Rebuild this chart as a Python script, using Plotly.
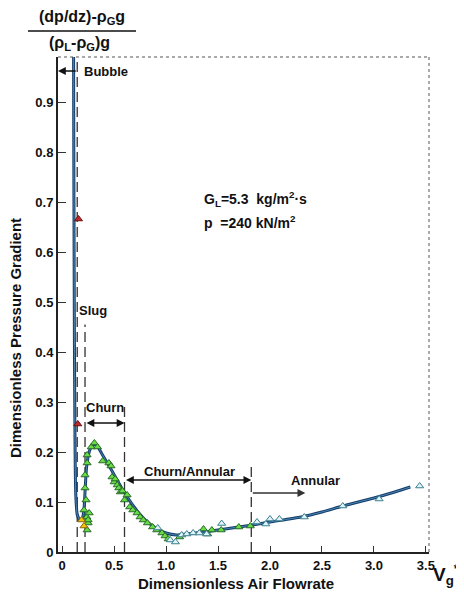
import plotly.graph_objects as go

# ---- data ----
curve_x = [0.11, 0.112, 0.115, 0.118, 0.122, 0.126, 0.132, 0.145, 0.17, 0.195, 0.21, 0.22, 0.235, 0.26, 0.29, 0.33, 0.38, 0.48, 0.59, 0.7, 0.8, 0.9, 1.0, 1.1, 1.2, 1.4, 1.6, 1.8, 2.0, 2.3, 2.5, 2.7, 3.0, 3.2, 3.35]
curve_y = [0.99, 0.8, 0.6, 0.42, 0.27, 0.17, 0.11, 0.075, 0.064, 0.068, 0.085, 0.12, 0.17, 0.2, 0.214, 0.214, 0.197, 0.162, 0.122, 0.088, 0.064, 0.048, 0.038, 0.034, 0.036, 0.041, 0.047, 0.053, 0.06, 0.07, 0.08, 0.092, 0.108, 0.12, 0.13]

churn_x = [0.24, 0.25, 0.237, 0.25, 0.26, 0.21, 0.23, 0.22, 0.22, 0.24, 0.24, 0.28, 0.31, 0.34, 0.39, 0.45, 0.47, 0.48, 0.50, 0.51, 0.53, 0.545, 0.56, 0.58, 0.60, 0.625, 0.65, 0.68, 0.72, 0.75, 0.78, 0.82, 0.87, 0.91, 0.96, 0.99, 1.02, 1.13, 1.36, 1.40, 1.44, 1.53, 1.70, 1.81]
churn_y = [0.044, 0.058, 0.07, 0.064, 0.078, 0.084, 0.104, 0.128, 0.154, 0.178, 0.194, 0.21, 0.218, 0.21, 0.182, 0.178, 0.172, 0.15, 0.14, 0.146, 0.134, 0.128, 0.12, 0.122, 0.104, 0.114, 0.09, 0.084, 0.078, 0.07, 0.064, 0.058, 0.05, 0.044, 0.038, 0.032, 0.026, 0.03, 0.046, 0.036, 0.044, 0.044, 0.05, 0.052]

annular_x = [0.92, 1.04, 1.09, 1.15, 1.20, 1.26, 1.32, 1.39, 1.535, 1.875, 1.96, 2.0, 2.09, 2.33, 2.70, 3.05, 3.44]
annular_y = [0.048, 0.024, 0.02, 0.034, 0.036, 0.038, 0.038, 0.036, 0.057, 0.06, 0.056, 0.066, 0.066, 0.07, 0.092, 0.106, 0.132]

bubble_x = [0.157, 0.15]
bubble_y = [0.666, 0.256]

slug_x = [0.186, 0.21]
slug_y = [0.064, 0.052]

x_ticks = [0, 0.5, 1.0, 1.5, 2.0, 2.5, 3.0, 3.5]
x_tick_text = ["0", "0.5", "1.0", "1.5", "2.0", "2.5", "3.0", "3.5"]
y_ticks = [0, 0.1, 0.2, 0.3, 0.4, 0.5, 0.6, 0.7, 0.8, 0.9]
y_tick_text = ["0", "0.1", "0.2", "0.3", "0.4", "0.5", "0.6", "0.7", "0.8", "0.9"]

# regime boundaries (x, top y)
bounds_x = [0.145, 0.22, 0.6, 1.82]
bounds_top = [0.99, 0.455, 0.30, 0.17]

FONT = "Liberation Sans, Arial, sans-serif"

fig = go.Figure()

for bx, bt in zip(bounds_x, bounds_top):
    fig.add_trace(go.Scatter(x=[bx, bx], y=[0, bt], mode="lines",
                             line=dict(color="#333333", width=1.3, dash="10px,5px"),
                             hoverinfo="skip", showlegend=False))

fig.add_trace(go.Scatter(x=curve_x, y=curve_y, mode="lines",
                         line=dict(color="#153e6e", width=3, shape="spline", smoothing=0.6),
                         showlegend=False))
fig.add_trace(go.Scatter(x=curve_x, y=curve_y, mode="lines",
                         line=dict(color="#4a86b0", width=1, shape="spline", smoothing=0.6),
                         showlegend=False))

def tri(x, y, fill, edge):
    fig.add_trace(go.Scatter(x=x, y=y, mode="markers",
                             marker=dict(symbol="triangle-up", size=7, color=fill,
                                         line=dict(color=edge, width=1)),
                             showlegend=False))

tri(churn_x, churn_y, "#66dd44", "#2a6a2a")
tri(annular_x, annular_y, "#dff3f8", "#3a7f8c")
tri(bubble_x, bubble_y, "#c0282a", "#6a1010")
tri(slug_x, slug_y, "#f4c20d", "#8a6a00")

# window pixel -> paper (plot area spans x 58..429, y 57..552 in the window)
def px2paper(px, py):
    return (px - 58) / 371.0, (552 - py) / 495.0

ann = []
def text_px(txt, px, py, size=13, xanchor="center", angle=0):
    x, y = px2paper(px, py)
    ann.append(dict(text=txt, x=x, y=y, xref="paper", yref="paper", showarrow=False,
                    xanchor=xanchor, yanchor="middle", textangle=angle,
                    font=dict(family=FONT, size=size, color="#111111", weight="bold")))

def text_data(txt, x, y, size=13, xanchor="center"):
    ann.append(dict(text=txt, x=x, y=y, xref="x", yref="y", showarrow=False,
                    xanchor=xanchor, yanchor="middle",
                    font=dict(family=FONT, size=size, color="#111111", weight="bold")))

def arrow(x0, x1, y, both=False, color="#111111"):
    ann.append(dict(x=x1, y=y, ax=x0, ay=y, xref="x", yref="y", axref="x", ayref="y",
                    text="", showarrow=True, arrowhead=2, arrowsize=1.2, arrowwidth=1.3,
                    arrowcolor=color, arrowside="end+start" if both else "end",
                    standoff=0, startstandoff=0))

# axis titles / header
text_px("(dp/dz)-ρ<sub>G</sub>g", 82, 18, size=16)
text_px("(ρ<sub>L</sub>-ρ<sub>G</sub>)g", 79, 43, size=16)
text_px("Dimensionless Pressure Gradient", 15, 338, size=15, angle=-90)
text_px("Dimensionless Air Flowrate", 236, 583, size=15)
text_px("V<sub>g</sub><sup>*</sup>", 431, 574, size=19, xanchor="left")

# regime labels
text_data("Bubble", 0.19, 0.962, xanchor="left")
arrow(0.145, -0.04, 0.962)
text_data("Slug", 0.145, 0.484, xanchor="left")
text_data("Churn", 0.41, 0.29)
arrow(0.22, 0.6, 0.258, both=True)
text_data("Churn/Annular", 1.23, 0.162)
arrow(0.6, 1.82, 0.144, both=True)
text_data("Annular", 2.44, 0.144)
arrow(1.82, 2.34, 0.118, color="#333333")

text_data("G<sub>L</sub>=5.3  kg/m<sup>2</sup>·s", 1.35, 0.706, size=14, xanchor="left")
text_data("p  =240 kN/m<sup>2</sup>", 1.35, 0.66, size=14, xanchor="left")

shapes = [
    dict(type="line", xref="paper", yref="paper", x0=0, x1=1, y0=1, y1=1,
         line=dict(color="#555555", width=1, dash="dot")),
    dict(type="line", xref="paper", yref="paper", x0=1, x1=1, y0=0, y1=1,
         line=dict(color="#555555", width=1, dash="dot")),
    dict(type="line", xref="paper", yref="paper",
         x0=(28 - 58) / 371.0, x1=(136 - 58) / 371.0,
         y0=(552 - 31) / 495.0, y1=(552 - 31) / 495.0,
         line=dict(color="#111111", width=1.5)),
]

# the page body has an 8px margin, so the figure is 8px smaller than the window
fig.update_layout(
    width=456, height=591,
    margin=dict(l=50, r=35, t=49, b=47),
    paper_bgcolor="white", plot_bgcolor="white",
    annotations=ann, shapes=shapes,
    font=dict(family=FONT, size=13, color="#111111"),
    xaxis=dict(range=[-0.04, 3.53], tickvals=x_ticks, ticktext=x_tick_text,
               showgrid=False, zeroline=False, showline=True, linecolor="#222222",
               linewidth=2, ticks="inside", ticklen=6, tickwidth=1.2, tickcolor="#333333",
               tickfont=dict(family=FONT, size=13, weight="bold")),
    yaxis=dict(range=[0, 0.99], tickvals=y_ticks, ticktext=y_tick_text,
               showgrid=False, zeroline=False, showline=True, linecolor="#222222",
               linewidth=2, ticks="inside", ticklen=8, tickwidth=1.2, tickcolor="#333333",
               tickfont=dict(family=FONT, size=13, weight="bold")),
)

fig.write_html("out.html")
